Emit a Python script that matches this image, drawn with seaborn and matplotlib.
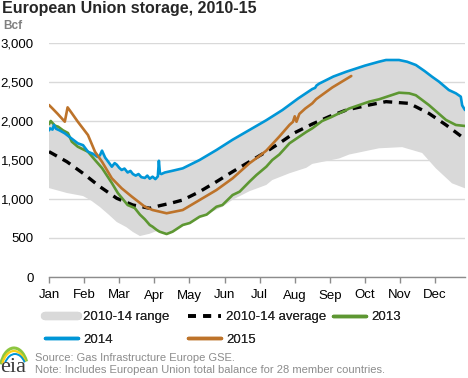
import numpy as np
import matplotlib
matplotlib.use('Agg')
import matplotlib.pyplot as plt
import seaborn as sns
from matplotlib.lines import Line2D
from matplotlib.patches import Arc

# x values are months since Jan 1 (0 = Jan, 11 = Dec)
months = ['Jan', 'Feb', 'Mar', 'Apr', 'May', 'Jun', 'Jul', 'Aug', 'Sep', 'Oct', 'Nov', 'Dec']
yticks = [0, 500, 1000, 1500, 2000, 2500, 3000]

# 2010-14 range (min / max)
range_lo_x = [0, 0.51, 0.97, 1.2, 1.45, 1.7, 1.93, 2.2, 2.39, 2.59, 2.87, 3.07, 3.35, 3.52, 3.81,
              4.29, 4.57, 4.94, 5.23, 5.71, 6.19, 6.36, 6.85, 7.33, 7.50, 8.27, 8.55, 9.40, 10.06,
              10.63, 11.02, 11.48, 11.85]
range_lo = [1140, 1077, 1038, 980, 897, 800, 705, 640, 577, 525, 555, 590, 551, 575, 650,
            760, 820, 900, 990, 1100, 1180, 1243, 1330, 1400, 1450, 1520, 1570, 1650, 1665,
            1590, 1393, 1201, 1137]

range_hi_x = [0, 0.03, 0.1, 0.14, 0.2, 0.3, 0.45, 0.6, 0.82, 0.97, 1.11, 1.25, 1.38, 1.45, 1.51,
              1.6, 1.7, 1.79, 1.87, 1.93, 2.0, 2.07, 2.15, 2.24, 2.32, 2.39, 2.47, 2.55, 2.63,
              2.73, 2.8, 2.87, 2.95, 3.03, 3.10, 3.13, 3.16, 3.2, 3.3, 3.5, 3.81, 4.29, 4.77,
              5.23, 5.71, 6.19, 6.65, 7.1, 7.50, 7.58, 7.62, 7.70, 8.1, 8.47, 9.0, 9.40, 9.6,
              9.97, 10.2, 10.45, 10.7, 10.91, 11.11, 11.39, 11.59, 11.73, 11.77, 11.85]
range_hi = [1960, 1990, 1960, 1950, 1935, 1920, 1860, 1790, 1714, 1690, 1606, 1580, 1540, 1560, 1620,
            1530, 1470, 1414, 1460, 1440, 1400, 1372, 1390, 1340, 1360, 1320, 1300, 1320, 1280,
            1270, 1300, 1260, 1286, 1255, 1290, 1490, 1330, 1320, 1340, 1360, 1393, 1500, 1628,
            1760, 1885, 2010, 2141, 2290, 2410, 2425, 2455, 2480, 2570, 2632, 2710, 2760, 2782,
            2782, 2760, 2718, 2640, 2568, 2504, 2397, 2355, 2312, 2180, 2163]

# 2010-14 average
avg_x = [0, 0.51, 0.97, 1.45, 1.93, 2.39, 2.87, 3.15, 3.5, 3.81, 4.29, 4.77, 5.23, 5.71, 6.19,
         6.56, 7.0, 7.50, 8.0, 8.47, 9.12, 9.60, 10.26, 10.82, 11.31, 11.76]
avg = [1607, 1478, 1329, 1158, 1009, 923, 881, 914, 950, 987, 1094, 1222, 1350, 1478, 1607,
       1714, 1850, 1961, 2060, 2141, 2205, 2248, 2226, 2098, 1949, 1798]

# 2013
y13_x = [0, 0.05, 0.17, 0.26, 0.40, 0.54, 0.65, 0.82, 1.11, 1.31, 1.51, 1.79, 1.96, 2.24, 2.44,
         2.59, 2.73, 2.87, 2.95, 3.07, 3.15, 3.35, 3.52, 3.81, 4.01, 4.29, 4.49, 4.77, 4.94, 5.23,
         5.43, 5.71, 5.91, 6.19, 6.36, 6.56, 6.85, 7.33, 7.50, 7.78, 8.04, 8.27, 8.47, 8.55, 9.12,
         9.40, 9.97, 10.26, 10.45, 10.82, 11.31, 11.59, 11.85]
y13 = [1960, 2000, 1940, 1927, 1880, 1846, 1735, 1670, 1606, 1500, 1397, 1205, 1077, 923, 885,
       800, 740, 667, 645, 603, 581, 551, 581, 667, 692, 773, 800, 901, 923, 1051,
       1094, 1222, 1308, 1414, 1500, 1570, 1714, 1860, 1906, 2000, 2050, 2100, 2141, 2160, 2248,
       2278, 2363, 2355, 2330, 2205, 2013, 1949, 1936]

# 2014
y14_x = [0, 0.03, 0.1, 0.14, 0.2, 0.3, 0.45, 0.6, 0.82, 0.97, 1.11, 1.25, 1.38, 1.45, 1.51,
         1.6, 1.7, 1.79, 1.87, 1.93, 2.0, 2.07, 2.15, 2.24, 2.32, 2.39, 2.47, 2.55, 2.63,
         2.73, 2.8, 2.87, 2.95, 3.03, 3.10, 3.13, 3.16, 3.2, 3.3, 3.5, 3.81, 4.29, 4.77,
         5.23, 5.71, 6.19, 6.65, 7.1, 7.50, 7.58, 7.62, 7.70, 8.1, 8.47, 9.0, 9.40, 9.6,
         9.97, 10.2, 10.45, 10.7, 10.91, 11.11, 11.39, 11.59, 11.73, 11.77, 11.85]
y14 = [1880, 1906, 1890, 1950, 1900, 1880, 1842, 1790, 1714, 1690, 1606, 1580, 1540, 1560, 1620,
       1530, 1470, 1414, 1460, 1440, 1400, 1372, 1390, 1340, 1360, 1320, 1300, 1320, 1280,
       1270, 1300, 1260, 1286, 1255, 1290, 1490, 1330, 1320, 1340, 1360, 1393, 1500, 1628,
       1760, 1885, 2010, 2141, 2290, 2410, 2425, 2455, 2480, 2570, 2632, 2710, 2760, 2782,
       2782, 2760, 2718, 2640, 2568, 2504, 2397, 2355, 2312, 2200, 2141]

# 2015
y15_x = [0, 0.1, 0.25, 0.45, 0.53, 0.65, 0.82, 1.11, 1.31, 1.51, 1.79, 2.07, 2.36, 2.73, 2.95,
         3.35, 3.81, 4.29, 4.77, 5.23, 5.71, 5.99, 6.19, 6.56, 6.85, 6.95, 7.0, 7.05, 7.13, 7.3,
         7.50, 7.61, 8.07, 8.61]
y15 = [2205, 2160, 2090, 1991, 2175, 2100, 1991, 1820, 1606, 1478, 1265, 1137, 1030, 901, 859,
       817, 859, 987, 1115, 1265, 1458, 1550, 1620, 1800, 1950, 1990, 2060, 1990, 2090, 2160,
       2226, 2280, 2430, 2577]

c_range = '#d9d9d9'
c13 = '#5d9732'
c14 = '#0096d7'
c15 = '#bd732a'

sns.set_theme(style='white')
plt.rcParams['font.family'] = ['Liberation Sans', 'DejaVu Sans']

fig = plt.figure(figsize=(4.68, 3.78), dpi=100)
ax = fig.add_axes([49 / 468, 1 - 277 / 378, 416 / 468, 234 / 378])

ax.fill(np.r_[range_hi_x, range_lo_x[::-1]], np.r_[range_hi, range_lo[::-1]],
        color=c_range, lw=0, zorder=1)
sns.lineplot(x=avg_x, y=avg, ax=ax, color='black', lw=2.4, linestyle=(0, (2.7, 2.0)),
             estimator=None, zorder=2)
sns.lineplot(x=y13_x, y=y13, ax=ax, color=c13, lw=1.9, estimator=None, zorder=3)
sns.lineplot(x=y14_x, y=y14, ax=ax, color=c14, lw=1.9, estimator=None, zorder=4)
sns.lineplot(x=y15_x, y=y15, ax=ax, color=c15, lw=1.9, estimator=None, zorder=5)

ax.set_xlim(0, 11.85)
ax.set_ylim(0, 3000)
ax.set_xticks(range(12))
ax.set_xticklabels(months)
ax.set_yticks(yticks)
ax.set_yticklabels([f'{v:,}' for v in yticks])
ax.set_xlabel('')
ax.set_ylabel('')
ax.yaxis.grid(True, color='#d9d9d9', lw=1)
ax.set_axisbelow(True)
for s in ['top', 'right', 'left']:
    ax.spines[s].set_visible(False)
ax.spines['bottom'].set_color('#8c8c8c')
ax.spines['bottom'].set_linewidth(1)
ax.tick_params(axis='x', bottom=True, length=4, width=1, color='#8c8c8c', pad=5,
               labelsize=9.5, labelcolor='black')
ax.tick_params(axis='y', length=0, pad=11, labelsize=9.5, labelcolor='black')

# legend: three columns placed like the original
h_range = Line2D([], [], color=c_range, lw=6)
h_avg = Line2D([], [], color='black', lw=2.6, linestyle=(0, (2.2, 2.0)))
h13 = Line2D([], [], color=c13, lw=2.5)
h14 = Line2D([], [], color=c14, lw=2.5)
h15 = Line2D([], [], color=c15, lw=2.5)
leg_cols = [
    ([h_range, h14], ['2010-14 range', '2014'], 45),
    ([h_avg, h15], ['2010-14 average', '2015'], 188),
    ([h13], ['2013'], 333),
]
for hs, ls, xpx in leg_cols:
    leg = fig.legend(hs, ls, loc='upper left', bbox_to_anchor=(xpx / 468, 1 - 311 / 378),
                     frameon=False, fontsize=9.5, handlelength=2.5, handletextpad=0.4,
                     labelspacing=0.8, borderpad=0, borderaxespad=0)
    fig.add_artist(leg)

fig.text(2 / 468, 1 - 9 / 378, 'European Union storage, 2010-15', fontsize=11.5,
         weight='bold', va='center', ha='left')
fig.text(3 / 468, 1 - 26 / 378, 'Bcf', fontsize=8.5, weight='bold', color='#7f7f7f',
         va='center', ha='left')
fig.text(35 / 468, 1 - 358 / 378, 'Source: Gas Infrastructure Europe GSE.', fontsize=8,
         color='#8c8c8c', va='center', ha='left')
fig.text(35 / 468, 1 - 370 / 378,
         'Note: Includes European Union total balance for 28 member countries.', fontsize=8,
         color='#8c8c8c', va='center', ha='left')

# small eia logo
lax = fig.add_axes([0, 0, 34 / 468, 40 / 378])
lax.set_xlim(0, 34)
lax.set_ylim(0, 40)
lax.axis('off')
lax.text(0, 6, 'eia', family='Liberation Serif', fontsize=16, color='#3a3a3a',
         va='baseline', ha='left')
lax.add_patch(Arc((14, 6), 28, 48, theta1=40, theta2=150, color='#8dc63f', lw=2.2))
lax.add_patch(Arc((14, 5), 26, 44, theta1=45, theta2=140, color='#f7d117', lw=1.6))
lax.add_patch(Arc((15, 4), 24, 40, theta1=50, theta2=130, color='#0096d7', lw=1.4))

fig.savefig('out.png', dpi=100)
